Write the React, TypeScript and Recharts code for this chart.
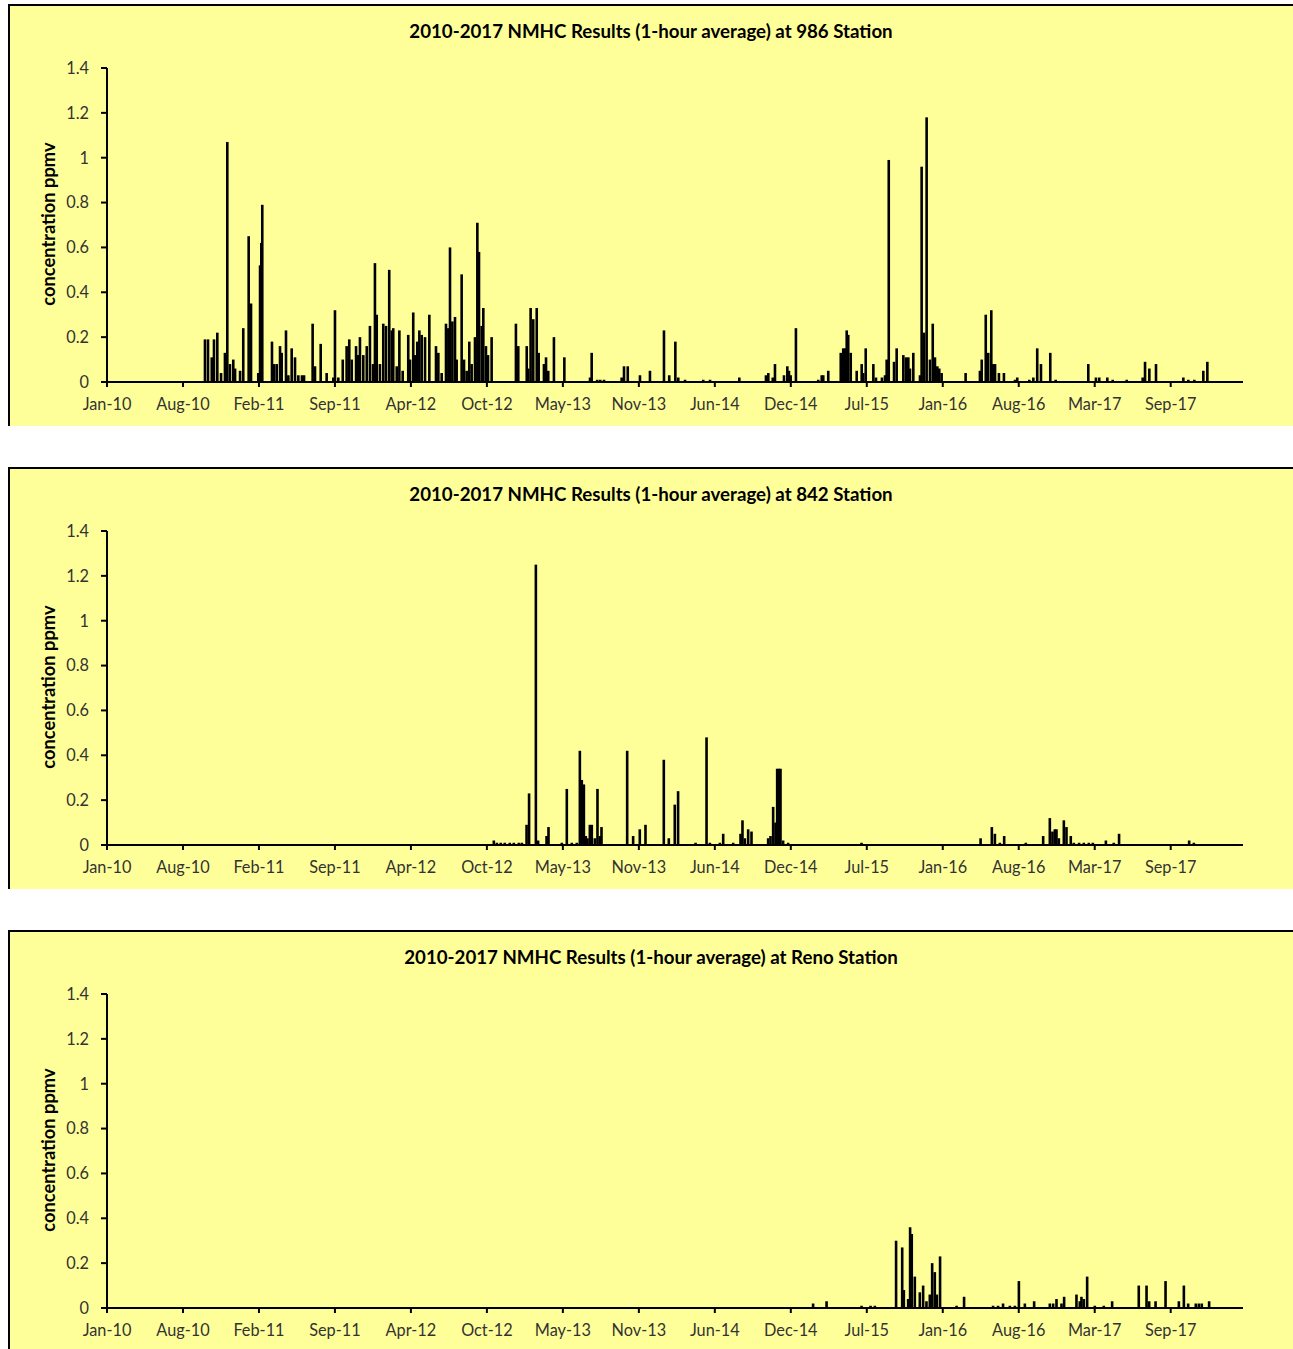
import { ComposedChart, Bar, XAxis, YAxis } from "recharts";

// time is a decimal year, value is ppmv
const station986: [number, number][] = [
  [2010.758, 0.19], [2010.78, 0.19], [2010.807, 0.11], [2010.823, 0.19], [2010.847, 0.22],
  [2010.874, 0.04], [2010.902, 0.13], [2010.919, 1.07], [2010.938, 0.08], [2010.962, 0.1],
  [2010.975, 0.06], [2011.011, 0.05], [2011.034, 0.24], [2011.073, 0.65], [2011.09, 0.35],
  [2011.142, 0.04], [2011.155, 0.52], [2011.164, 0.62], [2011.171, 0.79], [2011.241, 0.18],
  [2011.256, 0.08], [2011.275, 0.08], [2011.299, 0.16], [2011.311, 0.13], [2011.342, 0.23],
  [2011.359, 0.03], [2011.383, 0.15], [2011.407, 0.11], [2011.431, 0.03], [2011.457, 0.03],
  [2011.472, 0.03], [2011.534, 0.26], [2011.551, 0.07], [2011.592, 0.17], [2011.635, 0.04],
  [2011.683, 0.02], [2011.695, 0.32], [2011.719, 0.02], [2011.751, 0.1], [2011.779, 0.16],
  [2011.798, 0.19], [2011.816, 0.1], [2011.847, 0.16], [2011.859, 0.12], [2011.875, 0.2],
  [2011.899, 0.12], [2011.924, 0.16], [2011.947, 0.25], [2011.969, 0.08], [2011.983, 0.53],
  [2011.996, 0.3], [2012.019, 0.08], [2012.043, 0.26], [2012.063, 0.25], [2012.086, 0.5],
  [2012.104, 0.23], [2012.115, 0.24], [2012.14, 0.07], [2012.159, 0.23], [2012.183, 0.05],
  [2012.223, 0.21], [2012.236, 0.1], [2012.259, 0.31], [2012.272, 0.12], [2012.288, 0.18],
  [2012.303, 0.23], [2012.32, 0.21], [2012.344, 0.2], [2012.375, 0.3], [2012.423, 0.16],
  [2012.44, 0.13], [2012.464, 0.04], [2012.495, 0.26], [2012.512, 0.24], [2012.524, 0.6],
  [2012.541, 0.27], [2012.56, 0.29], [2012.572, 0.1], [2012.608, 0.48], [2012.625, 0.1],
  [2012.644, 0.05], [2012.663, 0.18], [2012.68, 0.08], [2012.704, 0.2], [2012.721, 0.71],
  [2012.733, 0.58], [2012.752, 0.25], [2012.764, 0.33], [2012.783, 0.16], [2012.798, 0.12],
  [2012.824, 0.2], [2012.999, 0.26], [2013.016, 0.16], [2013.077, 0.16], [2013.088, 0.06],
  [2013.105, 0.33], [2013.124, 0.28], [2013.149, 0.33], [2013.163, 0.13], [2013.201, 0.08],
  [2013.216, 0.11], [2013.232, 0.05], [2013.273, 0.2], [2013.348, 0.11], [2013.533, 0.02],
  [2013.545, 0.13], [2013.585, 0.01], [2013.607, 0.01], [2013.634, 0.01], [2013.761, 0.02],
  [2013.778, 0.07], [2013.805, 0.07], [2013.893, 0.03], [2013.965, 0.05], [2014.066, 0.23],
  [2014.104, 0.03], [2014.148, 0.18], [2014.169, 0.02], [2014.218, 0.01], [2014.349, 0.01],
  [2014.398, 0.01], [2014.609, 0.02], [2014.801, 0.03], [2014.818, 0.04], [2014.85, 0.02],
  [2014.866, 0.08], [2014.931, 0.03], [2014.955, 0.07], [2014.967, 0.05], [2014.979, 0.03],
  [2015.017, 0.24], [2015.178, 0.01], [2015.203, 0.03], [2015.214, 0.03], [2015.25, 0.05],
  [2015.34, 0.13], [2015.358, 0.15], [2015.371, 0.15], [2015.383, 0.23], [2015.394, 0.21],
  [2015.412, 0.13], [2015.455, 0.05], [2015.491, 0.08], [2015.502, 0.04], [2015.52, 0.15],
  [2015.575, 0.08], [2015.594, 0.02], [2015.637, 0.02], [2015.659, 0.03], [2015.671, 0.1],
  [2015.686, 0.99], [2015.724, 0.09], [2015.743, 0.15], [2015.791, 0.12], [2015.81, 0.11],
  [2015.827, 0.11], [2015.839, 0.06], [2015.863, 0.13], [2015.911, 0.03], [2015.923, 0.96],
  [2015.94, 0.22], [2015.959, 1.18], [2015.983, 0.1], [2016.003, 0.26], [2016.019, 0.11],
  [2016.036, 0.07], [2016.05, 0.06], [2016.067, 0.04], [2016.24, 0.04], [2016.343, 0.05],
  [2016.356, 0.1], [2016.385, 0.3], [2016.403, 0.13], [2016.425, 0.32], [2016.439, 0.08],
  [2016.452, 0.08], [2016.48, 0.04], [2016.516, 0.04], [2016.596, 0.01], [2016.612, 0.02],
  [2016.699, 0.01], [2016.728, 0.02], [2016.756, 0.15], [2016.783, 0.08], [2016.85, 0.13],
  [2016.889, 0.01], [2017.124, 0.08], [2017.179, 0.02], [2017.203, 0.02], [2017.261, 0.02],
  [2017.3, 0.01], [2017.401, 0.01], [2017.516, 0.02], [2017.533, 0.09], [2017.564, 0.06],
  [2017.612, 0.08], [2017.809, 0.02], [2017.845, 0.01], [2017.888, 0.01], [2017.953, 0.05],
  [2017.982, 0.09],
];

const station842: [number, number][] = [
  [2012.841, 0.02], [2012.863, 0.01], [2012.891, 0.01], [2012.92, 0.01], [2012.956, 0.01],
  [2012.985, 0.01], [2013.021, 0.01], [2013.043, 0.01], [2013.077, 0.09], [2013.095, 0.23],
  [2013.144, 1.25], [2013.16, 0.02], [2013.221, 0.04], [2013.235, 0.08], [2013.331, 0.01],
  [2013.367, 0.25], [2013.403, 0.01], [2013.439, 0.01], [2013.461, 0.42], [2013.475, 0.29],
  [2013.49, 0.27], [2013.504, 0.04], [2013.516, 0.03], [2013.533, 0.09], [2013.547, 0.09],
  [2013.569, 0.03], [2013.588, 0.25], [2013.605, 0.04], [2013.617, 0.08], [2013.802, 0.42],
  [2013.845, 0.04], [2013.893, 0.07], [2013.934, 0.09], [2014.066, 0.38], [2014.102, 0.03],
  [2014.145, 0.18], [2014.169, 0.24], [2014.295, 0.01], [2014.374, 0.48], [2014.398, 0.01],
  [2014.47, 0.01], [2014.494, 0.05], [2014.566, 0.01], [2014.619, 0.05], [2014.633, 0.11],
  [2014.65, 0.03], [2014.674, 0.07], [2014.698, 0.06], [2014.818, 0.03], [2014.835, 0.04],
  [2014.854, 0.17], [2014.871, 0.1], [2014.883, 0.34], [2014.895, 0.34], [2014.907, 0.34],
  [2014.926, 0.02], [2014.962, 0.01], [2015.491, 0.01], [2016.349, 0.03], [2016.43, 0.08],
  [2016.452, 0.05], [2016.488, 0.01], [2016.519, 0.04], [2016.675, 0.01], [2016.8, 0.04],
  [2016.848, 0.12], [2016.867, 0.06], [2016.884, 0.07], [2016.896, 0.07], [2016.913, 0.03],
  [2016.949, 0.11], [2016.968, 0.08], [2016.999, 0.04], [2017.021, 0.01], [2017.059, 0.01],
  [2017.093, 0.01], [2017.129, 0.01], [2017.158, 0.01], [2017.252, 0.02], [2017.309, 0.01],
  [2017.347, 0.05], [2017.852, 0.02], [2017.886, 0.01],
];

const stationReno: [number, number][] = [
  [2015.142, 0.02], [2015.239, 0.03], [2015.491, 0.01], [2015.556, 0.01], [2015.587, 0.01],
  [2015.74, 0.3], [2015.784, 0.27], [2015.796, 0.08], [2015.827, 0.04], [2015.841, 0.36],
  [2015.853, 0.33], [2015.875, 0.14], [2015.911, 0.07], [2015.935, 0.1], [2015.959, 0.03],
  [2015.983, 0.06], [2016.0, 0.2], [2016.019, 0.16], [2016.034, 0.06], [2016.057, 0.23],
  [2016.176, 0.01], [2016.23, 0.05], [2016.439, 0.01], [2016.475, 0.01], [2016.511, 0.02],
  [2016.56, 0.01], [2016.596, 0.01], [2016.625, 0.12], [2016.668, 0.02], [2016.735, 0.03],
  [2016.848, 0.02], [2016.872, 0.02], [2016.896, 0.04], [2016.932, 0.02], [2016.951, 0.05],
  [2017.04, 0.06], [2017.064, 0.03], [2017.076, 0.05], [2017.093, 0.04], [2017.117, 0.14],
  [2017.172, 0.01], [2017.237, 0.01], [2017.297, 0.03], [2017.489, 0.1], [2017.545, 0.1],
  [2017.564, 0.03], [2017.61, 0.03], [2017.682, 0.12], [2017.778, 0.03], [2017.814, 0.1],
  [2017.845, 0.02], [2017.9, 0.02], [2017.922, 0.02], [2017.943, 0.02], [2017.996, 0.03],
];

const tickLabels = [
  "Jan-10", "Aug-10", "Feb-11", "Sep-11", "Apr-12", "Oct-12", "May-13", "Nov-13",
  "Jun-14", "Dec-14", "Jul-15", "Jan-16", "Aug-16", "Mar-17", "Sep-17",
];
const yTicks = [0, 0.2, 0.4, 0.6, 0.8, 1, 1.2, 1.4];

// date axis: starts 20 Jan 2010, major unit 200 days
const AXIS_START = 2010.052;
const TICK_STEP = 200 / 365.25;
const AXIS_END = 2018.239;
const xTicks = tickLabels.map((_, i) => AXIS_START + i * TICK_STEP);

const FONT = "Lato, 'Open Sans', sans-serif";
const SPIKE_WIDTH = 2.6;

const panels = [
  { title: "2010-2017 NMHC Results (1-hour average) at 986 Station", series: station986, top: 4 },
  { title: "2010-2017 NMHC Results (1-hour average) at 842 Station", series: station842, top: 467 },
  { title: "2010-2017 NMHC Results (1-hour average) at Reno Station", series: stationReno, top: 930 },
];

// hourly readings are drawn as thin spikes; keep a fixed width however close the points are
function Spike(props: any) {
  const { x, y, width, height } = props;
  if (height == null || height <= 0) return null;
  return <rect x={x + width / 2 - SPIKE_WIDTH / 2} y={y} width={SPIKE_WIDTH} height={height} fill="#000" />;
}

function StationChart({ title, series, top }: { title: string; series: [number, number][]; top: number }) {
  const data = series.map(([t, v]) => ({ t, v }));
  return (
    <div
      style={{
        position: "absolute",
        left: 8,
        top,
        width: 1300,
        height: 422,
        boxSizing: "border-box",
        background: "#FFFF99",
        borderTop: "2px solid #000",
        borderLeft: "2px solid #000",
      }}
    >
      <div
        style={{
          position: "absolute",
          left: 0,
          top: 13,
          width: 1282,
          textAlign: "center",
          fontFamily: FONT,
          fontWeight: 700,
          fontSize: 18.7,
          lineHeight: "24px",
          color: "#000",
        }}
      >
        {title}
      </div>
      <div
        style={{
          position: "absolute",
          left: -62,
          top: 206,
          width: 200,
          height: 24,
          lineHeight: "24px",
          textAlign: "center",
          transform: "rotate(-90deg)",
          fontFamily: FONT,
          fontWeight: 700,
          fontSize: 18.3,
          color: "#000",
        }}
      >
        concentration ppmv
      </div>
      <div style={{ position: "absolute", left: 0, top: 0 }}>
        <ComposedChart width={1283} height={420} data={data} margin={{ top: 62, right: 50, bottom: 14, left: 57 }}>
          <XAxis
            dataKey="t"
            type="number"
            domain={[AXIS_START, AXIS_END]}
            ticks={xTicks}
            interval={0}
            allowDataOverflow
            height={30}
            tickSize={5}
            tickMargin={11}
            tickFormatter={(v: number) => tickLabels[Math.round((v - AXIS_START) / TICK_STEP)]}
            axisLine={{ stroke: "#000", strokeWidth: 2 }}
            tickLine={{ stroke: "#000", strokeWidth: 2 }}
            tick={{ fill: "#333", fontSize: 16.3, fontFamily: FONT }}
          />
          <YAxis
            type="number"
            domain={[0, 1.4]}
            ticks={yTicks}
            interval={0}
            allowDataOverflow
            width={40}
            tickSize={6}
            tickMargin={12}
            axisLine={{ stroke: "#000", strokeWidth: 2 }}
            tickLine={{ stroke: "#000", strokeWidth: 2 }}
            tick={{ fill: "#333", fontSize: 16.3, fontFamily: FONT }}
          />
          <Bar dataKey="v" fill="#000" shape={Spike} isAnimationActive={false} />
        </ComposedChart>
      </div>
    </div>
  );
}

export default function App() {
  return (
    <div
      style={{
        position: "absolute",
        left: 0,
        top: 0,
        width: 1293,
        height: 1349,
        overflow: "hidden",
        background: "#fff",
      }}
    >
      {panels.map((p) => (
        <StationChart key={p.title} title={p.title} series={p.series} top={p.top} />
      ))}
    </div>
  );
}
